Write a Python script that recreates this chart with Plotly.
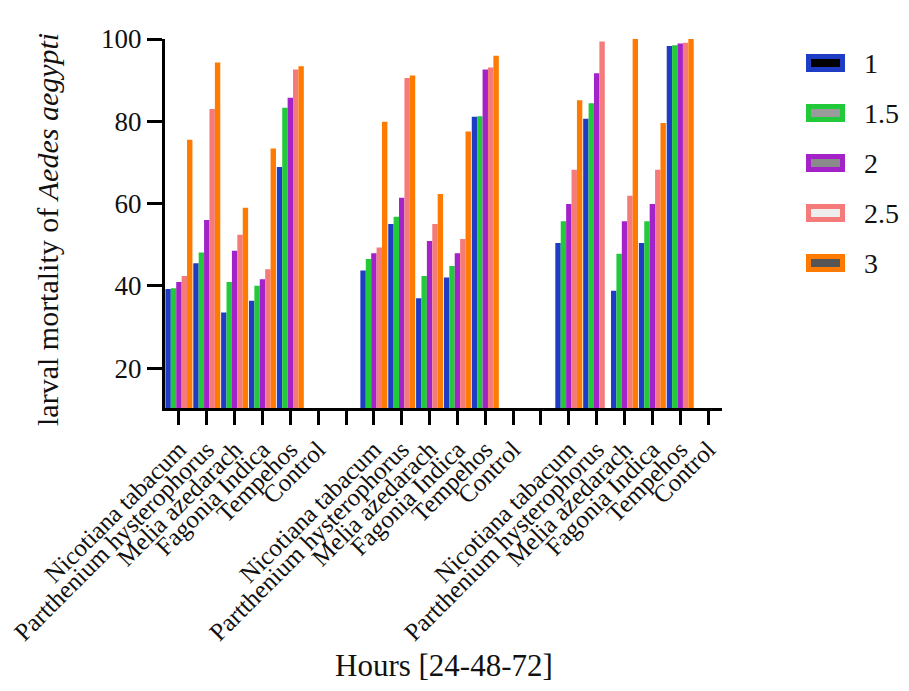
import plotly.graph_objects as go

# ---- data ----
series_names = ["1", "1.5", "2", "2.5", "3"]
plants = ["Nicotiana tabacum", "Partthenium hysterophorus", "Melia azedarach",
          "Fagonia Indica", "Tempehos", "Control"]
hour_groups = ["24", "48", "72"]

s_1 = [39.2, 45.5, 33.5, 36.4, 68.9, None,
       43.7, 55.0, 37.0, 42.0, 81.1, None,
       50.4, 80.6, 38.8, 50.4, 98.3, None]
s_1_5 = [39.4, 48.1, 40.9, 40.0, 83.3, None,
         46.5, 56.8, 42.4, 44.8, 81.2, None,
         55.7, 84.4, 47.8, 55.7, 98.5, None]
s_2 = [40.9, 56.0, 48.5, 41.6, 85.7, None,
       47.9, 61.4, 50.9, 47.9, 92.6, None,
       59.9, 91.7, 55.7, 59.9, 98.9, None]
s_2_5 = [42.4, 83.0, 52.4, 44.0, 92.6, None,
         49.3, 90.5, 55.0, 51.4, 93.1, None,
         68.2, 99.4, 61.9, 68.2, 99.1, None]
s_3 = [75.5, 94.3, 59.0, 73.4, 93.4, None,
       79.9, 91.1, 62.3, 77.5, 95.9, None,
       85.1, None, 100.0, 79.6, 100.0, None]
series_values = [s_1, s_1_5, s_2, s_2_5, s_3]

y_ticks = [20, 40, 60, 80, 100]

# ---- styles ----
colors = ["#1f3cc4", "#22c93a", "#a323c8", "#f57a7a", "#ff7a00"]
inner_fill = ["#000000", "#9a9a9a", "#8a8a8a", "#eeeeee", "#555555"]
FONT = "Liberation Serif, Times New Roman, serif"

# slot positions: 6 plants per group, one empty slot between groups
n_p = len(plants)
xpos = [g * (n_p + 1) + i for g in range(len(hour_groups)) for i in range(n_p)]
n_slots = len(hour_groups) * (n_p + 1) - 1
tickvals = list(range(n_slots))
ticktext = [""] * n_slots
for g in range(len(hour_groups)):
    for i, p in enumerate(plants):
        ticktext[g * (n_p + 1) + i] = p

fig = go.Figure()
for name, vals, c in zip(series_names, series_values, colors):
    fig.add_trace(go.Bar(x=xpos, y=vals, name=name,
                         marker=dict(color=c, line=dict(width=0))))

OFF = 8  # page offset of the figure in the browser
W, H = 909, 691
L, T = 165 - OFF, 39 - OFF
PR, PB = 722 - OFF, 408 - OFF  # plot right / bottom in figure px
R, B = W - PR, H - PB
pw = PR - L
ph = PB - T

fig.update_layout(
    width=W, height=H,
    margin=dict(l=L, r=R, t=T, b=B, autoexpand=False),
    barmode="group", bargap=0.03, bargroupgap=0,
    plot_bgcolor="white", paper_bgcolor="white",
    showlegend=False,
    font=dict(family=FONT, color="#111111"),
)
fig.update_xaxes(
    range=[-0.5, n_slots - 0.5], tickmode="array", tickvals=tickvals, ticktext=ticktext,
    tickangle=-45, tickfont=dict(size=25, family=FONT, color="#111"),
    showline=True, linecolor="black", linewidth=3,
    ticks="outside", ticklen=14, tickwidth=3, tickcolor="black",
    showgrid=False, zeroline=False, automargin=False,
)
fig.update_yaxes(
    range=[10.3, 100], tickmode="array", tickvals=y_ticks,
    tickfont=dict(size=27, family=FONT, color="#111"),
    showline=True, linecolor="black", linewidth=3,
    ticks="outside", ticklen=15, tickwidth=3, tickcolor="black",
    showgrid=False, zeroline=False, automargin=False,
)

# convert reference-page pixel positions to paper coordinates
def px_x(x):
    return (x - OFF - L) / pw

def px_y(y):
    return (PB - (y - OFF)) / ph

# axis titles
fig.add_annotation(text="Hours [24-48-72]", xref="paper", yref="paper",
                   x=0.5, y=px_y(665), xanchor="center", yanchor="middle",
                   showarrow=False, font=dict(size=31, family=FONT, color="#111"))
fig.add_annotation(text="larval mortality of <i>Aedes aegypti</i>", xref="paper", yref="paper",
                   x=px_x(47), y=px_y(230), xanchor="center", yanchor="middle",
                   textangle=-90, showarrow=False,
                   font=dict(size=30, family=FONT, color="#111"))

# manual legend
for k, (name, c, inn) in enumerate(zip(series_names, colors, inner_fill)):
    cy = 63 + 50 * k
    fig.add_shape(type="rect", xref="paper", yref="paper",
                  x0=px_x(806), x1=px_x(845), y0=px_y(cy + 9), y1=px_y(cy - 9),
                  fillcolor=c, line=dict(width=0))
    fig.add_shape(type="rect", xref="paper", yref="paper",
                  x0=px_x(811), x1=px_x(840), y0=px_y(cy + 4), y1=px_y(cy - 4),
                  fillcolor=inn, line=dict(width=0))
    fig.add_annotation(text=name, xref="paper", yref="paper",
                       x=px_x(862), y=px_y(cy), xanchor="left", yanchor="middle",
                       showarrow=False, font=dict(size=28, family=FONT, color="#111"))

fig.write_html("out.html")
